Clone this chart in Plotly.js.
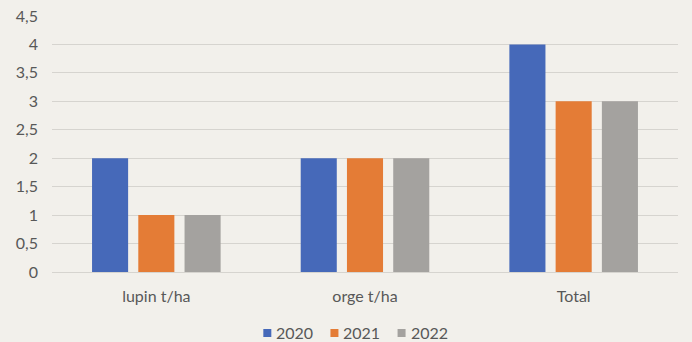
<!DOCTYPE html>
<html>
<head>
<meta charset="utf-8">
<script src="https://cdn.plot.ly/plotly-3.0.1.min.js"></script>
<style>
html,body{margin:0;padding:0;background:#f2f0eb;}
#chart{width:692px;height:342px;}
</style>
</head>
<body>
<div id="chart"></div>
<script>
const categories = ["lupin t/ha", "orge t/ha", "Total"];
const seriesNames = ["2020", "2021", "2022"];
const values2020 = [2, 2, 4];
const values2021 = [1, 2, 3];
const values2022 = [1, 2, 3];
const colors = ["#4669b9", "#e47c36", "#a4a29f"];

const W = 692, H = 342;
const margin = {l: 52, r: 14, t: 16, b: 70, autoexpand: false};
const plotW = W - margin.l - margin.r;
const plotH = H - margin.t - margin.b;
const FONT = "Lato, 'Open Sans', 'Liberation Sans', sans-serif";
const textColor = "#585858";

const allValues = [values2020, values2021, values2022];
const traces = allValues.map((vals, i) => ({
  type: "bar",
  name: seriesNames[i],
  x: categories,
  y: vals,
  marker: {color: colors[i]},
  hoverinfo: "none",
  showlegend: false
}));

// custom compact legend (square + label), laid out below the plot
const ctx = document.createElement("canvas").getContext("2d");
ctx.font = "16px Lato";
const sq = 8, sqGap = 4, itemGap = 18;
const widths = seriesNames.map(n => ctx.measureText(n).width);
const totalW = widths.reduce((a, w) => a + sq + sqGap + w, 0) + itemGap * (seriesNames.length - 1);
const legendCenterPx = 355;
const legendYpx = 332;
let cur = legendCenterPx - totalW / 2;
const shapes = [];
const annotations = [];
const toPX = px => (px - margin.l) / plotW;
const toPY = py => (H - margin.b - py) / plotH;
seriesNames.forEach((n, i) => {
  shapes.push({
    type: "rect", xref: "paper", yref: "paper",
    x0: toPX(cur), x1: toPX(cur + sq),
    y0: toPY(legendYpx + 1 + sq / 2), y1: toPY(legendYpx + 1 - sq / 2),
    fillcolor: colors[i], line: {width: 0}
  });
  annotations.push({
    xref: "paper", yref: "paper",
    x: toPX(cur + sq + sqGap), y: toPY(legendYpx),
    xanchor: "left", yanchor: "middle",
    text: n, showarrow: false, borderpad: 0,
    font: {family: FONT, size: 16, color: textColor}
  });
  cur += sq + sqGap + widths[i] + itemGap;
});

const layout = {
  width: W,
  height: H,
  paper_bgcolor: "#f2f0eb",
  plot_bgcolor: "#f2f0eb",
  separators: ",.",
  margin: margin,
  barmode: "group",
  bargap: 0.335,
  bargroupgap: 0.22,
  font: {family: FONT, size: 16, color: textColor},
  xaxis: {
    showgrid: false,
    zeroline: false,
    showline: false,
    ticks: "",
    ticklabelstandoff: 13,
    tickfont: {family: FONT, size: 16, color: textColor}
  },
  yaxis: {
    range: [0, 4.5],
    dtick: 0.5,
    tick0: 0,
    showgrid: true,
    gridcolor: "#d6d4cf",
    gridwidth: 1,
    zeroline: true,
    zerolinecolor: "#d6d4cf",
    zerolinewidth: 1,
    showline: false,
    ticks: "",
    ticklabelstandoff: 13,
    tickfont: {family: FONT, size: 16, color: textColor}
  },
  showlegend: false,
  shapes: shapes,
  annotations: annotations
};

Plotly.newPlot("chart", traces, layout, {displayModeBar: false, staticPlot: true});
</script>
</body>
</html>
